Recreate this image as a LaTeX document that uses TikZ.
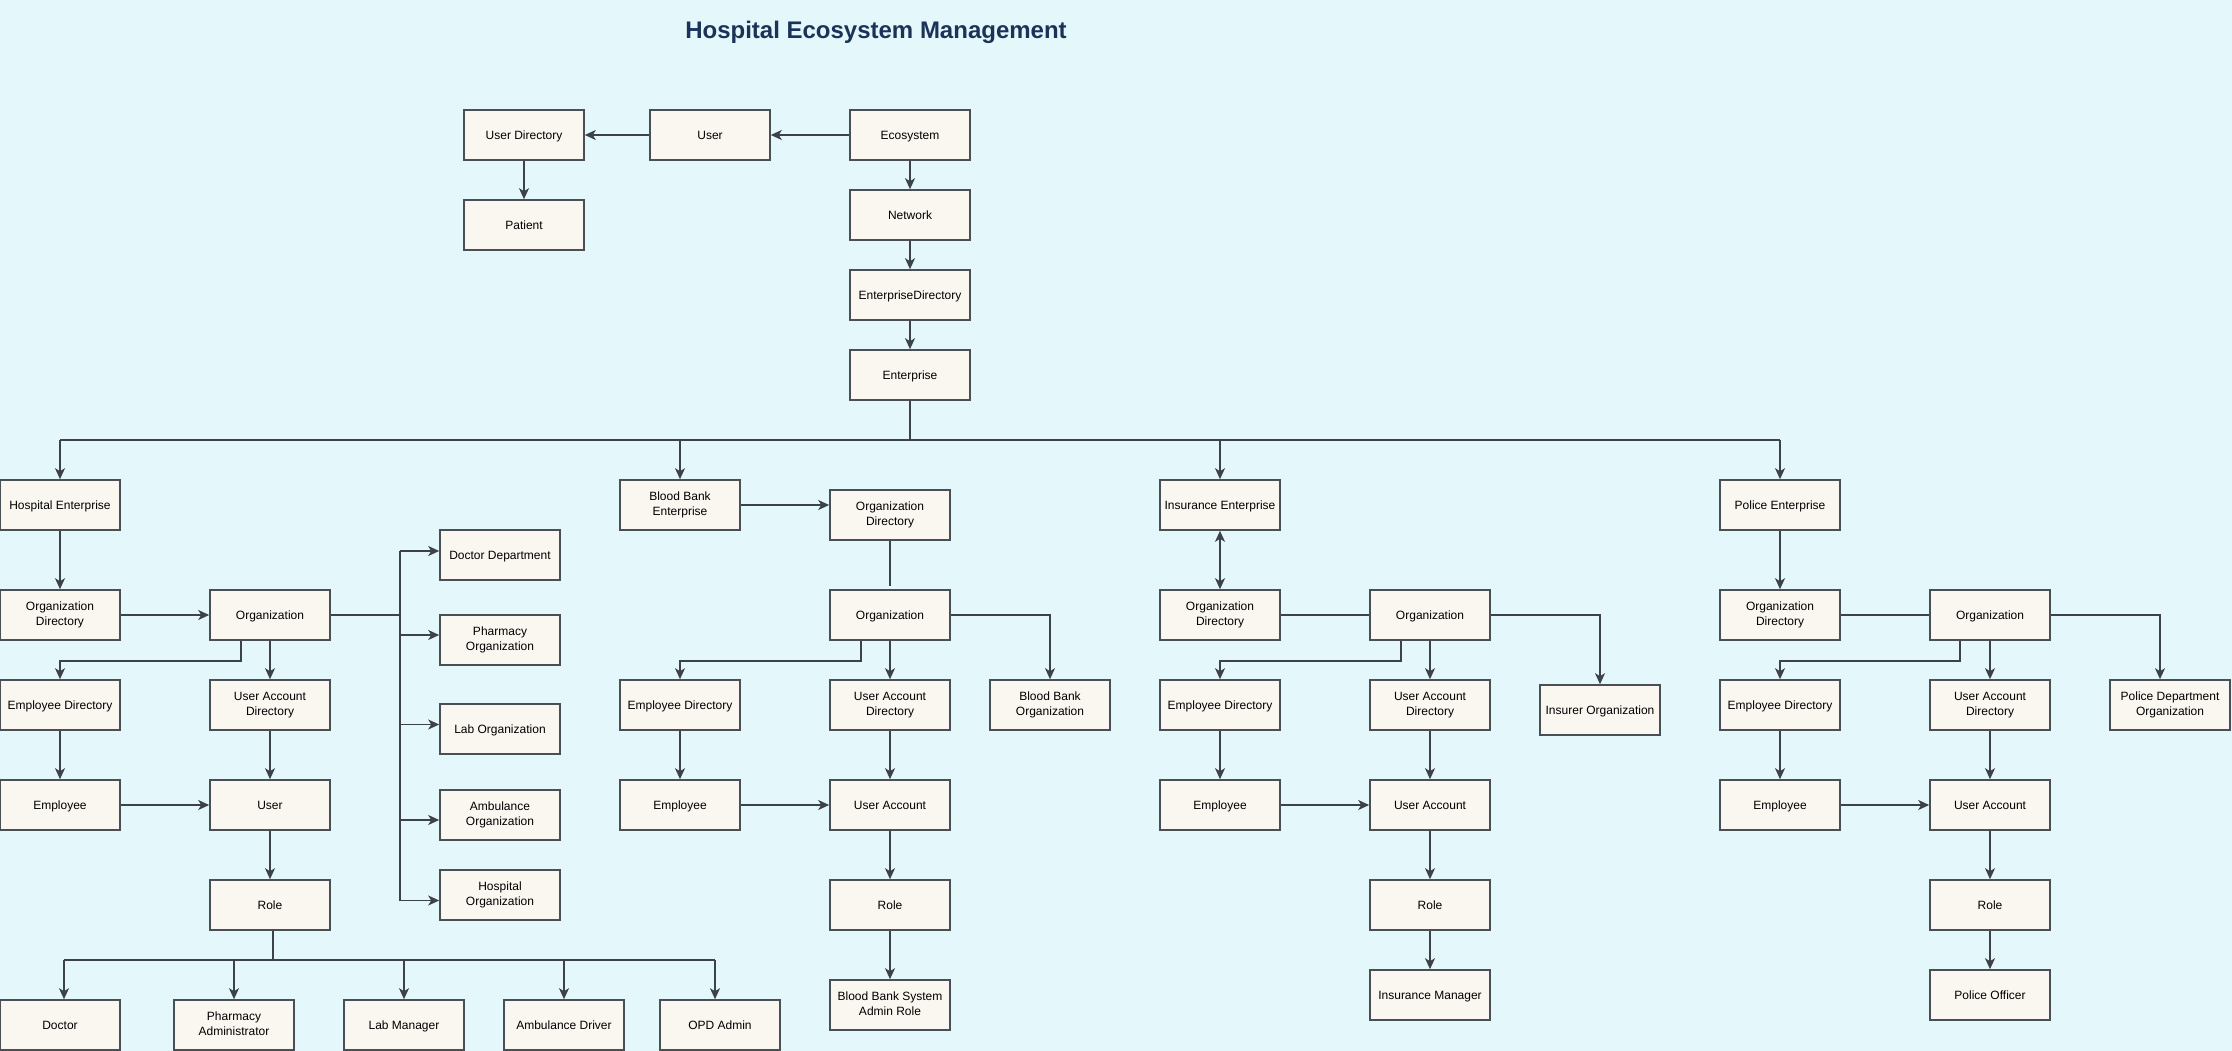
\documentclass[tikz,border=0pt]{standalone}
\usepackage{fontspec}
\setmainfont{Liberation Sans}
\usetikzlibrary{arrows.meta,calc}
\definecolor{bgc}{HTML}{E4F7FA}
\definecolor{boxc}{HTML}{F9F7F0}
\definecolor{bordc}{HTML}{4A4F55}
\definecolor{linec}{HTML}{3C4247}
\definecolor{titlec}{HTML}{1B3358}
\newcommand\bxstrut{\rule[-2.54pt]{0pt}{13.4pt}}
\newcommand\bxbr{\\\bxstrut}
\begin{document}
\begin{tikzpicture}[x=1pt,y=-1pt,
  box/.style={draw=bordc, fill=boxc, line width=1.6pt, minimum width=120pt, minimum height=50pt,
    inner sep=0pt, align=center, font=\fontsize{12}{15}\selectfont, text=black,
    execute at begin node=\bxstrut},
  conn/.style={draw=linec, line width=1.5pt},
  arr/.style={conn, -{Stealth[length=11pt,width=10pt,inset=3pt]}},
  darr/.style={conn, {Stealth[length=11pt,width=10pt,inset=3pt]}-{Stealth[length=11pt,width=10pt,inset=3pt]}}]
\fill[bgc] (0,0) rectangle (2232,1051);
\useasboundingbox (0,0) rectangle (2232,1051);

\node[font=\bfseries\fontsize{24}{28}\selectfont, text=titlec, anchor=base] (title) at (876,39) {Hospital Ecosystem Management};

% top
\node[box] (udir) at (524,135) {User Directory};
\node[box] (topuser) at (710,135) {User};
\node[box] (eco) at (910,135) {Ecosystem};
\node[box] (patient) at (524,225) {Patient};
\node[box] (network) at (910,215) {Network};
\node[box] (entdir) at (910,295) {EnterpriseDirectory};
\node[box] (ent) at (910,375) {Enterprise};

% hospital
\node[box] (hent) at (60,505) {Hospital Enterprise};
\node[box] (hodir) at (60,615) {Organization\bxbr Directory};
\node[box] (horg) at (270,615) {Organization};
\node[box] (hedir) at (60,705) {Employee Directory};
\node[box] (huad) at (270,705) {User Account\bxbr Directory};
\node[box] (hemp) at (60,805) {Employee};
\node[box] (huser) at (270,805) {User};
\node[box] (hrole) at (270,905) {Role};
\node[box] (docdept) at (500,555) {Doctor Department};
\node[box] (pharmorg) at (500,640) {Pharmacy\bxbr Organization};
\node[box] (laborg) at (500,729) {Lab Organization};
\node[box] (amborg) at (500,815) {Ambulance\bxbr Organization};
\node[box] (hosporg) at (500,895) {Hospital\bxbr Organization};
\node[box] (doctor) at (60,1025) {Doctor};
\node[box] (pharmadmin) at (234,1025) {Pharmacy\bxbr Administrator};
\node[box] (labmgr) at (404,1025) {Lab Manager};
\node[box] (ambdriver) at (564,1025) {Ambulance Driver};
\node[box] (opd) at (720,1025) {OPD Admin};

% blood bank
\node[box] (bbent) at (680,505) {Blood Bank\bxbr Enterprise};
\node[box] (bbodir) at (890,515) {Organization\bxbr Directory};
\node[box] (bborg) at (890,615) {Organization};
\node[box] (bbedir) at (680,705) {Employee Directory};
\node[box] (bbuad) at (890,705) {User Account\bxbr Directory};
\node[box] (bbo) at (1050,705) {Blood Bank\bxbr Organization};
\node[box] (bbemp) at (680,805) {Employee};
\node[box] (bbua) at (890,805) {User Account};
\node[box] (bbrole) at (890,905) {Role};
\node[box] (bbadmin) at (890,1005) {Blood Bank System\bxbr Admin Role};

% insurance
\node[box] (ient) at (1220,505) {Insurance Enterprise};
\node[box] (iodir) at (1220,615) {Organization\bxbr Directory};
\node[box] (iorg) at (1430,615) {Organization};
\node[box] (iedir) at (1220,705) {Employee Directory};
\node[box] (iuad) at (1430,705) {User Account\bxbr Directory};
\node[box] (insurer) at (1600,710) {Insurer Organization};
\node[box] (iemp) at (1220,805) {Employee};
\node[box] (iua) at (1430,805) {User Account};
\node[box] (irole) at (1430,905) {Role};
\node[box] (imgr) at (1430,995) {Insurance Manager};

% police
\node[box] (pent) at (1780,505) {Police Enterprise};
\node[box] (podir) at (1780,615) {Organization\bxbr Directory};
\node[box] (porg) at (1990,615) {Organization};
\node[box] (pedir) at (1780,705) {Employee Directory};
\node[box] (puad) at (1990,705) {User Account\bxbr Directory};
\node[box] (pdo) at (2170,705) {Police Department\bxbr Organization};
\node[box] (pemp) at (1780,805) {Employee};
\node[box] (pua) at (1990,805) {User Account};
\node[box] (prole) at (1990,905) {Role};
\node[box] (pofficer) at (1990,995) {Police Officer};

% top connectors
\draw[arr] (eco) -- (topuser);
\draw[arr] (topuser) -- (udir);
\draw[arr] (udir) -- (patient);
\draw[arr] (eco) -- (network);
\draw[arr] (network) -- (entdir);
\draw[arr] (entdir) -- (ent);

% enterprise bus
\coordinate (bus) at (910,440);
\draw[conn] (ent.south) -- (bus);
\draw[conn] (hent.north |- bus) -- (pent.north |- bus);
\draw[arr] (hent.north |- bus) -- (hent.north);
\draw[arr] (bbent.north |- bus) -- (bbent.north);
\draw[arr] (ient.north |- bus) -- (ient.north);
\draw[arr] (pent.north |- bus) -- (pent.north);

% hospital connectors
\draw[arr] (hent) -- (hodir);
\draw[arr] (hodir) -- (horg);
\draw[arr] ([xshift=-29pt]horg.south) -- ++(0,20) -| (hedir.north);
\draw[arr] (horg) -- (huad);
\draw[arr] (hedir) -- (hemp);
\draw[arr] (huad) -- (huser);
\draw[arr] (hemp) -- (huser);
\draw[arr] (huser) -- (hrole);
\coordinate (hb) at (400,615);
\draw[conn] (horg.east) -- (hb);
\draw[conn] ([yshift=4pt]docdept.west -| hb) -- ([yshift=-5.5pt]hosporg.west -| hb);
\draw[arr] ([yshift=4pt]docdept.west -| hb) -- ([yshift=4pt]docdept.west);
\draw[arr] ([yshift=5pt]pharmorg.west -| hb) -- ([yshift=5pt]pharmorg.west);
\draw[arr] ([yshift=4.5pt]laborg.west -| hb) -- ([yshift=4.5pt]laborg.west);
\draw[arr] ([yshift=-5pt]amborg.west -| hb) -- ([yshift=-5pt]amborg.west);
\draw[arr] ([yshift=-5.5pt]hosporg.west -| hb) -- ([yshift=-5.5pt]hosporg.west);
\coordinate (rb) at (273,960);
\draw[conn] (hrole.south -| rb) -- (rb);
\draw[conn] ([xshift=4pt]doctor.north |- rb) -- ([xshift=-5pt]opd.north |- rb);
\draw[arr] ([xshift=4pt]doctor.north |- rb) -- ([xshift=4pt]doctor.north);
\draw[arr] (pharmadmin.north |- rb) -- (pharmadmin.north);
\draw[arr] (labmgr.north |- rb) -- (labmgr.north);
\draw[arr] (ambdriver.north |- rb) -- (ambdriver.north);
\draw[arr] ([xshift=-5pt]opd.north |- rb) -- ([xshift=-5pt]opd.north);

% blood bank connectors
\draw[arr] (bbent.east) -- (bbent.east -| bbodir.west);
\draw[conn] (bbodir.south) -- ([yshift=3pt]bborg.north);
\draw[arr] ([xshift=-29pt]bborg.south) -- ++(0,20) -| (bbedir.north);
\draw[arr] (bborg) -- (bbuad);
\draw[arr] (bborg.east) -| (bbo.north);
\draw[arr] (bbedir) -- (bbemp);
\draw[arr] (bbuad) -- (bbua);
\draw[arr] (bbemp) -- (bbua);
\draw[arr] (bbua) -- (bbrole);
\draw[arr] (bbrole) -- (bbadmin);

% insurance connectors
\draw[darr] (ient) -- (iodir);
\draw[conn] (iodir) -- (iorg);
\draw[arr] ([xshift=-29pt]iorg.south) -- ++(0,20) -| (iedir.north);
\draw[arr] (iorg) -- (iuad);
\draw[arr] (iorg.east) -| (insurer.north);
\draw[arr] (iedir) -- (iemp);
\draw[arr] (iuad) -- (iua);
\draw[arr] (iemp) -- (iua);
\draw[arr] (iua) -- (irole);
\draw[arr] (irole) -- (imgr);

% police connectors
\draw[arr] (pent) -- (podir);
\draw[conn] (podir) -- (porg);
\draw[arr] ([xshift=-30pt]porg.south) -- ++(0,20) -| (pedir.north);
\draw[arr] (porg) -- (puad);
\draw[arr] (porg.east) -| ([xshift=-10pt]pdo.north);
\draw[arr] (pedir) -- (pemp);
\draw[arr] (puad) -- (pua);
\draw[arr] (pemp) -- (pua);
\draw[arr] (pua) -- (prole);
\draw[arr] (prole) -- (pofficer);
\end{tikzpicture}
\end{document}
